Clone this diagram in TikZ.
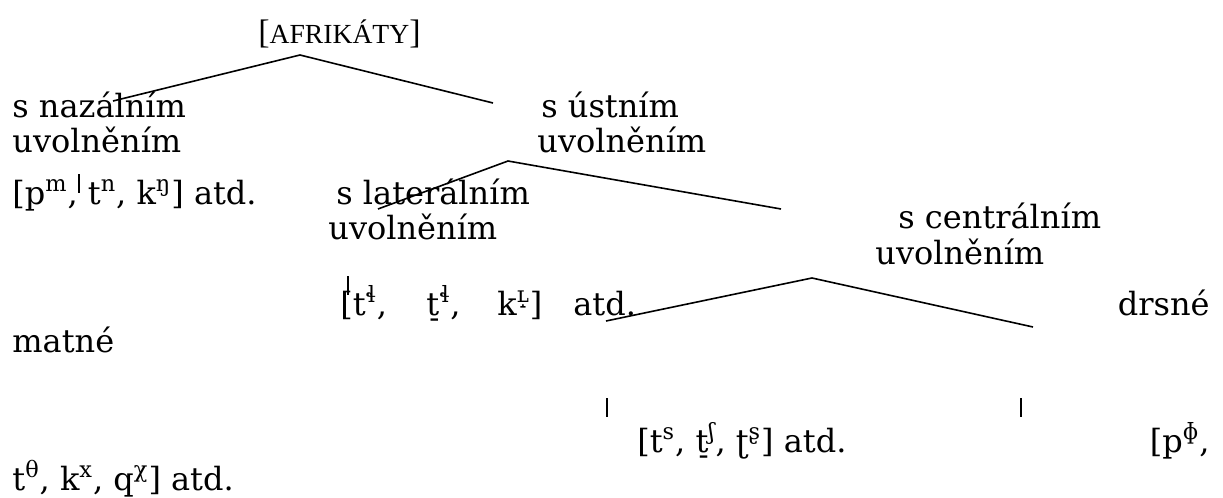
\documentclass[tikz,border=0pt]{standalone}
\usepackage{fontspec}
\setmainfont{DejaVu Serif}
\newfontfamily\timesfont{Liberation Serif}
\newcommand{\supr}[1]{\textsuperscript{#1}}

\begin{document}
\begin{tikzpicture}[
    x=0.5pt, y=-0.5pt,
    lbl/.style={anchor=base west, inner sep=0pt, font=\fontsize{16}{17.5}\selectfont},
    lblr/.style={lbl, anchor=base east},
    branch/.style={line width=0.8pt}
  ]
    \useasboundingbox (0,0) rectangle (1223,498);
    % labels
    \node[lbl] (root) at (258,43) {\timesfont\fontsize{17}{18}\selectfont[{\fontsize{13.8}{14}\selectfont AFRIKÁTY}]};
    \node[lbl] (nasal1) at (12,117) {s nazálním};
    \node[lbl] (nasal2) at (12,152) {uvolněním};
    \node[lbl] (oral1) at (541,117) {s ústním};
    \node[lbl] (oral2) at (537,152) {uvolněním};
    \node[lbl] (nasalex) at (12,204) {[p\supr{m}, t\supr{n}, k\supr{ŋ}] atd.};
    \node[lbl] (lat1) at (336,204) {s laterálním};
    \node[lbl] (lat2) at (328,239) {uvolněním};
    \node[lbl] (cen1) at (898,228) {s centrálním};
    \node[lbl] (cen2) at (875,264) {uvolněním};
    \node[lbl] (latex) at (340,315) {\makebox[43pt][l]{[t\supr{ɬ},}\makebox[35.5pt][l]{t̠\supr{ɬ},}\makebox[38pt][l]{k\supr{ʟ̝}]}atd.};
    \node[lblr] (rough) at (1210,315) {drsné};
    \node[lbl] (matte) at (12,352) {matné};
    \node[lbl] (matteex) at (637,452) {[t\supr{s}, t̠\supr{ʃ}, ʈ\supr{ʂ}] atd.};
    \node[lblr] (roughex1) at (1210,452) {[p\supr{ɸ},};
    \node[lbl] (roughex2) at (12,490) {t\supr{θ}, k\supr{x}, q\supr{χ}] atd.};
    % branch points
    \coordinate (top) at (300,55);
    \coordinate (nasalend) at (113,101);
    \coordinate (oralend) at (493,103);
    \coordinate (mid) at (508,161);
    \coordinate (latend) at (378,209);
    \coordinate (cenend) at (781,209);
    \coordinate (low) at (812,278);
    \coordinate (matteend) at (606,321);
    \coordinate (roughend) at (1033,327);
    \coordinate (t1a) at (79,174); \coordinate (t1b) at (79,193);
    \coordinate (t2a) at (348,276); \coordinate (t2b) at (348,295);
    \coordinate (t3a) at (607,398); \coordinate (t3b) at (607,417);
    \coordinate (t4a) at (1021,398); \coordinate (t4b) at (1021,417);
    % branches
    \draw[branch] (nasalend) -- (top) -- (oralend);
    \draw[branch] (latend) -- (mid) -- (cenend);
    \draw[branch] (matteend) -- (low) -- (roughend);
    \foreach \t in {1,...,4}
      \draw[branch] (t\t a) -- (t\t b);
\end{tikzpicture}
\end{document}
